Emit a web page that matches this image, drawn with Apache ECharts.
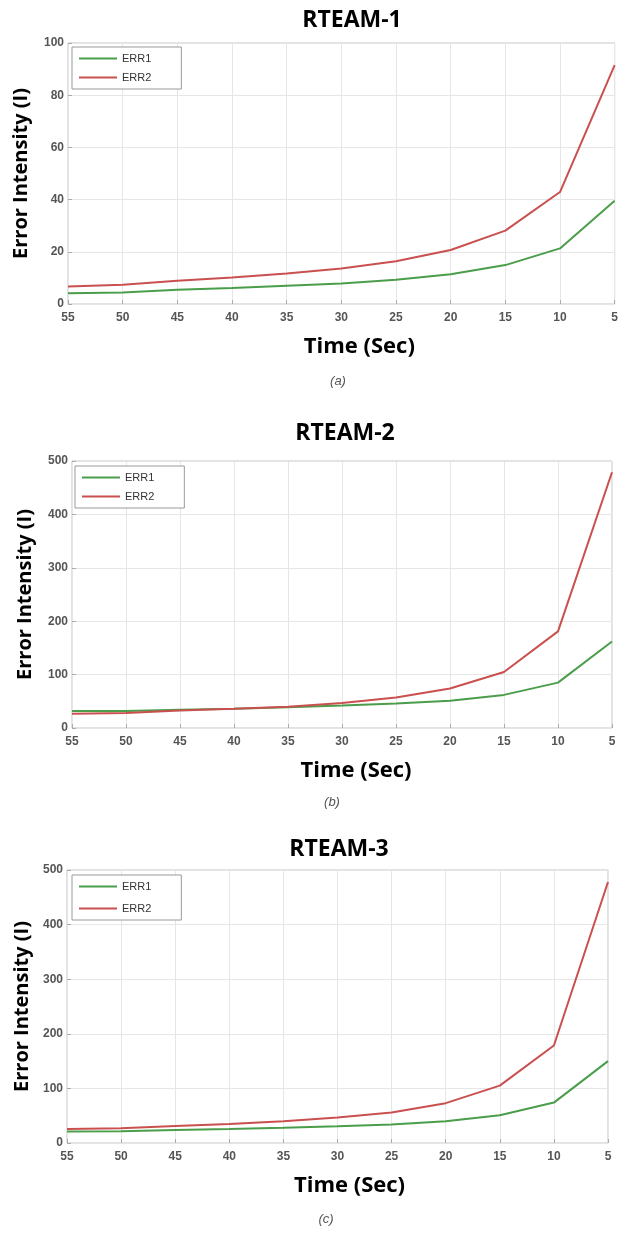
<!DOCTYPE html>
<html>
<head>
<meta charset="utf-8">
<script src="https://cdn.jsdelivr.net/npm/echarts@6/dist/echarts.min.js"></script>
<style>
  html, body { margin: 0; padding: 0; background: #fff; }
  #main { width: 621px; height: 1233px; }
</style>
</head>
<body>
<div id="main"></div>
<script>
// x axis: time in seconds (same for all three panels)
var timeSec = [55, 50, 45, 40, 35, 30, 25, 20, 15, 10, 5];

// RTEAM-1
var team1Err1 = [4.1, 4.4, 5.5, 6.1, 7.0, 7.9, 9.3, 11.4, 14.9, 21.3, 39.6];
var team1Err2 = [6.7, 7.4, 8.9, 10.2, 11.7, 13.6, 16.4, 20.7, 28.1, 42.9, 91.5];

// RTEAM-2
var team2Err1 = [32, 32, 34, 36, 39, 42, 46, 51, 62, 85, 162];
var team2Err2 = [26.5, 28, 33, 36, 40, 47, 57, 74, 105, 181, 479];

// RTEAM-3
var team3Err1 = [21, 21.5, 24, 25.7, 28, 30.6, 34, 40, 51, 74, 150];
var team3Err2 = [25.7, 27, 31, 35, 40, 46.5, 56, 73, 105, 178.5, 478];

var panelTitles = ['RTEAM-1', 'RTEAM-2', 'RTEAM-3'];
var captions = ['(a)', '(b)', '(c)'];
var yMax = [100, 500, 500];
var yStep = [20, 100, 100];

(function () {
  var myChart = echarts.init(document.getElementById('main'));

  var green = '#4a9d4a';
  var red = '#c9504f';
  var tickFont = { color: '#555', fontWeight: 'bold', fontSize: 12, fontFamily: 'Liberation Sans Narrow, Arial Narrow, Liberation Sans, sans-serif' };

  // where each panel sits on the page
  var grids = [
    { left: 68, right: 3, top: 43, height: 261 },
    { left: 72, right: 9, top: 461, height: 267 },
    { left: 67, right: 13, top: 870, height: 273 }
  ];
  var titlePos = [[352, 20], [345, 433], [339, 849]];
  var capPos = [[338, 381], [332, 802], [326, 1219]];
  var xNameShift = [36, 28, 24];
  var yNameGap = [37, 37, 31];
  var legendPos = [
    { left: 72, top: 47, gap: 6 },
    { left: 75, top: 466, gap: 6 },
    { left: 72, top: 875, gap: 9 }
  ];

  function pairs(arr) {
    return timeSec.map(function (t, i) { return [t, arr[i]]; });
  }

  var seriesData = [[team1Err1, team1Err2], [team2Err1, team2Err2], [team3Err1, team3Err2]];

  var option = {
    animation: false,
    backgroundColor: '#fff',
    grid: [],
    xAxis: [],
    yAxis: [],
    legend: [],
    series: [],
    graphic: []
  };

  for (var i = 0; i < 3; i++) {
    option.grid.push({
      left: grids[i].left, right: grids[i].right, top: grids[i].top, height: grids[i].height,
      show: true, borderColor: '#c4c4c4', borderWidth: 1
    });

    option.xAxis.push({
      type: 'value', gridIndex: i, inverse: true,
      min: 5, max: 55, interval: 5,
      name: 'Time (Sec)', nameLocation: 'middle', nameGap: 32,
      nameTextStyle: { fontSize: 22, fontWeight: 'bold', color: '#000', fontFamily: 'Open Sans, sans-serif', padding: [0, 0, 0, xNameShift[i]] },
      axisLine: { show: false },
      axisTick: { inside: true, length: 4, lineStyle: { color: '#aaa' } },
      axisLabel: Object.assign({ margin: 8 }, tickFont),
      splitLine: { lineStyle: { color: '#e6e6e6' } }
    });

    option.yAxis.push({
      type: 'value', gridIndex: i,
      min: 0, max: yMax[i], interval: yStep[i],
      name: 'Error Intensity (I)', nameLocation: 'middle', nameRotate: 90,
      nameGap: yNameGap[i],
      nameTextStyle: { fontSize: 20, fontWeight: 'bold', color: '#000', fontFamily: 'Open Sans, sans-serif' },
      axisLine: { show: false },
      axisTick: { inside: true, length: 4, lineStyle: { color: '#aaa' } },
      axisLabel: Object.assign({ margin: 4 }, tickFont),
      splitLine: { lineStyle: { color: '#e6e6e6' } }
    });

    // legend icon: just a short line
    option.legend.push({
      left: legendPos[i].left, top: legendPos[i].top,
      orient: 'vertical',
      data: ['ERR1', 'ERR2'].map(function (n) { return { name: n + '#' + i, icon: 'rect' }; }),
      formatter: function (name) { return name.split('#')[0]; },
      itemWidth: 38, itemHeight: 2, itemGap: legendPos[i].gap,
      padding: [5, 30, 5, 7],
      backgroundColor: '#fff', borderColor: '#9a9a9a', borderWidth: 1,
      textStyle: { fontSize: 11, lineHeight: 13, color: '#333', fontFamily: 'Liberation Sans Narrow, Arial Narrow, Liberation Sans, sans-serif' },
      selectedMode: false
    });

    option.series.push({
      name: 'ERR1#' + i, type: 'line', xAxisIndex: i, yAxisIndex: i,
      data: pairs(seriesData[i][0]), symbol: 'none',
      lineStyle: { color: green, width: 2 }, itemStyle: { color: green }
    });
    option.series.push({
      name: 'ERR2#' + i, type: 'line', xAxisIndex: i, yAxisIndex: i,
      data: pairs(seriesData[i][1]), symbol: 'none',
      lineStyle: { color: red, width: 2 }, itemStyle: { color: red }
    });

    // panel title and caption
    option.graphic.push({
      type: 'text', x: titlePos[i][0], y: titlePos[i][1],
      style: { text: panelTitles[i], fill: '#000', font: 'bold 23px "Open Sans", sans-serif', textAlign: 'center', textVerticalAlign: 'middle' }
    });
    option.graphic.push({
      type: 'text', x: capPos[i][0], y: capPos[i][1],
      style: { text: captions[i], fill: '#555', font: 'italic 13px "Liberation Sans", sans-serif', textAlign: 'center', textVerticalAlign: 'middle' }
    });
  }

  myChart.setOption(option);

  window.addEventListener('resize', function () {
    myChart.resize();
  });
})();
</script>
</body>
</html>
